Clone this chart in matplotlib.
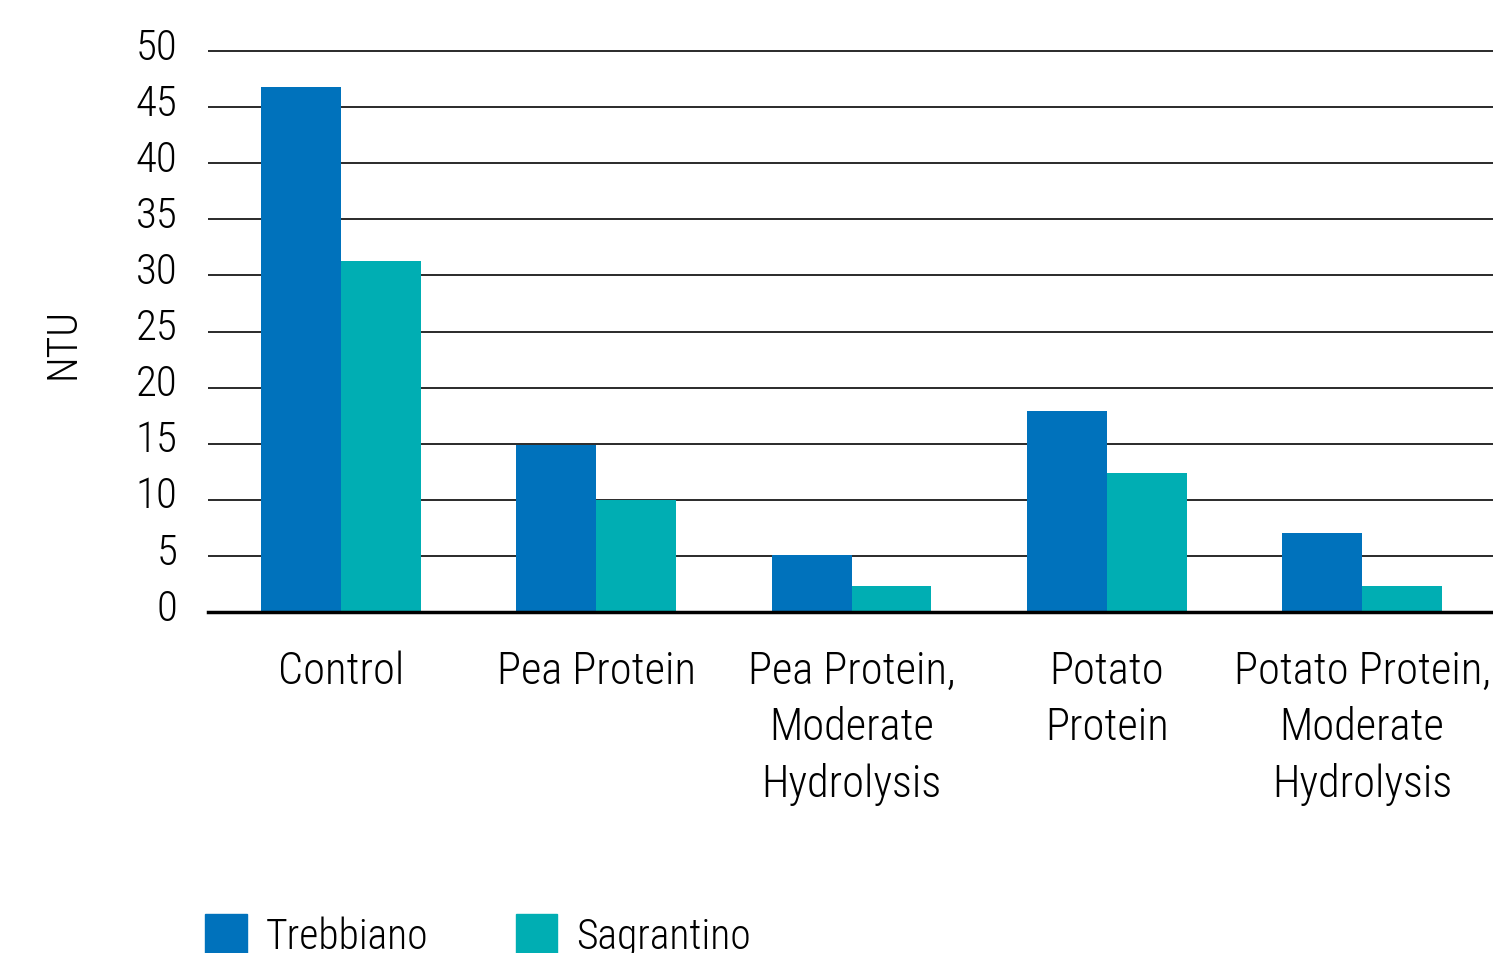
import numpy as np
import matplotlib
matplotlib.use("Agg")
import matplotlib.pyplot as plt
import matplotlib.transforms as mtransforms
from matplotlib import font_manager
from matplotlib.patches import Patch

categories = ["Control", "Pea Protein", "Pea Protein,\nModerate\nHydrolysis",
              "Potato\nProtein", "Potato Protein,\nModerate\nHydrolysis"]
trebbiano = [46.8, 14.9, 5.1, 17.9, 7.0]
sagrantino = [31.3, 10.0, 2.3, 12.4, 2.3]
y_ticks = [0, 5, 10, 15, 20, 25, 30, 35, 40, 45, 50]

blue = "#0072BC"
teal = "#00AEB3"

# pick a narrow font if one is installed
names = {f.name for f in font_manager.fontManager.ttflist}
family = "DejaVu Sans"
for cand in ["Roboto Condensed", "Liberation Sans Narrow", "Open Sans Condensed",
             "Noto Sans Condensed"]:
    if cand in names:
        family = cand
        break
plt.rcParams["font.family"] = [family, "DejaVu Sans"]
plt.rcParams["font.stretch"] = "condensed"
plt.rcParams["font.weight"] = "light"

fig = plt.figure(figsize=(14.93, 9.54), dpi=100)
ax = fig.add_axes([0.1393, 0.3574, 0.8607, 0.594])

x = np.arange(len(categories))
w = 0.313
ax.bar(x - w / 2, trebbiano, w, color=blue, zorder=3)
ax.bar(x + w / 2, sagrantino, w, color=teal, zorder=3)

ax.set_xlim(-0.521, 4.513)
ax.set_ylim(0, 50.5)
ax.set_yticks(y_ticks)
ax.set_yticklabels([str(t) for t in y_ticks], fontsize=31)
ax.set_xticks(x)
ax.set_xticklabels(categories, fontsize=32, linespacing=1.4, va="top")
ax.tick_params(axis="both", length=0)
ax.tick_params(axis="y", pad=22)
ax.tick_params(axis="x", pad=27)
# y labels sit a little above their gridlines
shift = mtransforms.ScaledTranslation(0, 6 / 72, fig.dpi_scale_trans)
for lab in ax.get_yticklabels():
    lab.set_transform(lab.get_transform() + shift)
ax.grid(axis="y", color="#2a2a2a", linewidth=1.4, zorder=1)
for s in ["top", "right", "left"]:
    ax.spines[s].set_visible(False)
ax.spines["bottom"].set_linewidth(2.5)
ax.spines["bottom"].set_zorder(4)
ax.set_ylabel("NTU", fontsize=30, fontweight="light")
ax.yaxis.set_label_coords(-0.0965, 0.4765)

handles = [Patch(color=blue, label="Trebbiano"), Patch(color=teal, label="Sagrantino")]
fig.legend(handles=handles, loc="upper left", bbox_to_anchor=(0.1373, 0.041),
           ncol=2, frameon=False, fontsize=30, handlelength=1.0, handleheight=1.1,
           handletextpad=0.45, columnspacing=2.1, borderaxespad=0, borderpad=0)

fig.savefig("out.png", dpi=100)
